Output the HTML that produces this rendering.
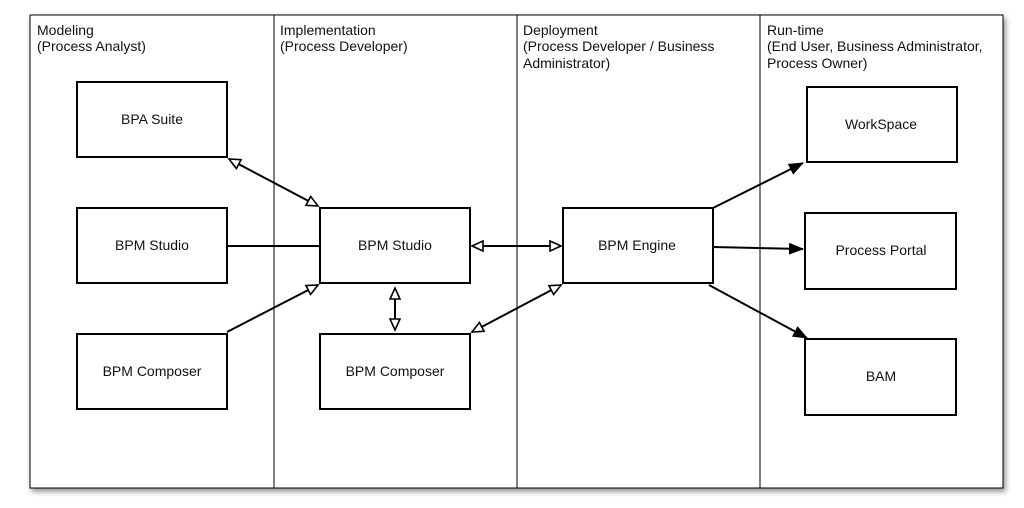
<!DOCTYPE html>
<html><head><style>
body{margin:0;background:#fff;}
svg text{font-family:"Liberation Sans",sans-serif;font-size:14px;fill:#111;}
</style></head><body>
<svg width="1024" height="503" xmlns="http://www.w3.org/2000/svg">
<defs>
<filter id="sh" x="-5%" y="-5%" width="110%" height="115%"><feDropShadow dx="2" dy="3" stdDeviation="3" flood-opacity="0.45"/></filter>
<marker id="open" markerWidth="14" markerHeight="12" refX="12" refY="6" orient="auto" markerUnits="userSpaceOnUse"><path d="M1,1 L12,6 L1,11 Z" fill="#fff" stroke="#000" stroke-width="1.6"/></marker>
<marker id="openS" markerWidth="14" markerHeight="12" refX="2" refY="6" orient="auto" markerUnits="userSpaceOnUse"><path d="M13,1 L2,6 L13,11 Z" fill="#fff" stroke="#000" stroke-width="1.6"/></marker>
<marker id="fill" markerWidth="16" markerHeight="12" refX="14" refY="6" orient="auto" markerUnits="userSpaceOnUse"><path d="M0,0 L15,6 L0,12 Z" fill="#000"/></marker>
</defs>
<rect x="30" y="15" width="973" height="473" fill="#fff" stroke="#000" stroke-width="1" filter="url(#sh)"/>
<g stroke="#000" stroke-width="1"><line x1="274" y1="15" x2="274" y2="488"/><line x1="517" y1="15" x2="517" y2="488"/><line x1="760" y1="15" x2="760" y2="488"/></g>
<text x="37" y="35">Modeling</text><text x="37" y="51">(Process Analyst)</text>
<text x="280" y="35">Implementation</text><text x="280" y="51">(Process Developer)</text>
<text x="523" y="35">Deployment</text><text x="523" y="51">(Process Developer / Business</text><text x="523" y="68">Administrator)</text>
<text x="767" y="35">Run-time</text><text x="767" y="51">(End User, Business Administrator,</text><text x="767" y="68">Process Owner)</text>
<g fill="#fff" stroke="#000" stroke-width="2">
<rect x="77" y="82" width="150" height="75"/>
<rect x="77" y="208" width="150" height="75"/>
<rect x="77" y="334" width="150" height="75"/>
<rect x="320" y="208" width="150" height="75"/>
<rect x="320" y="334" width="150" height="75"/>
<rect x="563" y="208" width="150" height="75"/>
<rect x="807" y="87" width="150" height="75"/>
<rect x="805" y="213" width="151" height="76"/>
<rect x="805" y="339" width="151" height="76"/>
</g>
<g text-anchor="middle">
<text x="152" y="124">BPA Suite</text>
<text x="152" y="250">BPM Studio</text>
<text x="152" y="376">BPM Composer</text>
<text x="395" y="250">BPM Studio</text>
<text x="395" y="376">BPM Composer</text>
<text x="637" y="250">BPM Engine</text>
<text x="881" y="129">WorkSpace</text>
<text x="881" y="255">Process Portal</text>
<text x="881" y="381">BAM</text>
</g>
<g stroke="#000" stroke-width="2" fill="none">
<line x1="229" y1="159" x2="318" y2="206" marker-start="url(#openS)" marker-end="url(#open)"/>
<line x1="227" y1="246" x2="320" y2="246"/>
<line x1="227" y1="332" x2="318" y2="285" marker-end="url(#open)"/>
<line x1="472" y1="246" x2="561" y2="246" marker-start="url(#openS)" marker-end="url(#open)"/>
<line x1="395" y1="288" x2="395" y2="330" marker-start="url(#openS)" marker-end="url(#open)"/>
<line x1="472" y1="332" x2="561" y2="285" marker-start="url(#openS)" marker-end="url(#open)"/>
<line x1="713" y1="208" x2="803" y2="163" marker-end="url(#fill)"/>
<line x1="713" y1="247" x2="803" y2="249" marker-end="url(#fill)"/>
<line x1="709" y1="285" x2="807" y2="338" marker-end="url(#fill)"/>
</g>
</svg>
</body></html>
